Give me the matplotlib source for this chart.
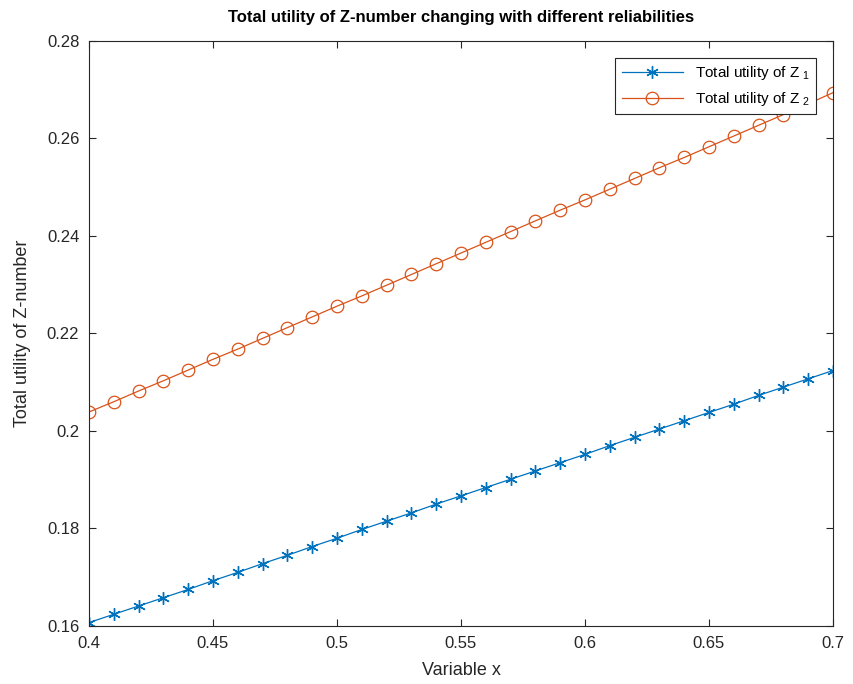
import matplotlib
matplotlib.use('Agg')
import matplotlib.pyplot as plt
from matplotlib.ticker import FuncFormatter

plt.rcParams['font.family'] = ['Liberation Sans', 'DejaVu Sans']
plt.rcParams['mathtext.default'] = 'regular'

x_vals = [0.40, 0.41, 0.42, 0.43, 0.44, 0.45, 0.46, 0.47, 0.48, 0.49, 0.50,
          0.51, 0.52, 0.53, 0.54, 0.55, 0.56, 0.57, 0.58, 0.59, 0.60,
          0.61, 0.62, 0.63, 0.64, 0.65, 0.66, 0.67, 0.68, 0.69, 0.70]

z1_utility = [0.1607, 0.1624, 0.1641, 0.1658, 0.1675, 0.1693, 0.1710, 0.1728,
              0.1745, 0.1763, 0.1780, 0.1798, 0.1815, 0.1832, 0.1850, 0.1867,
              0.1884, 0.1901, 0.1918, 0.1935, 0.1952, 0.1970, 0.1987, 0.2004,
              0.2021, 0.2038, 0.2055, 0.2073, 0.2090, 0.2107, 0.2124]

z2_utility = [0.2039, 0.2060, 0.2082, 0.2103, 0.2125, 0.2147, 0.2168, 0.2190,
              0.2212, 0.2234, 0.2256, 0.2277, 0.2299, 0.2321, 0.2343, 0.2365,
              0.2387, 0.2409, 0.2431, 0.2453, 0.2474, 0.2496, 0.2518, 0.2540,
              0.2561, 0.2583, 0.2605, 0.2627, 0.2649, 0.2671, 0.2694]

series_labels = [r'Total utility of Z $_1$', r'Total utility of Z $_2$']
x_ticks = [0.4, 0.45, 0.5, 0.55, 0.6, 0.65, 0.7]
y_ticks = [0.16, 0.18, 0.2, 0.22, 0.24, 0.26, 0.28]

fig = plt.figure(figsize=(8.54, 6.84), dpi=100)
ax = fig.add_axes([0.1042, 0.0848, 0.8712, 0.8553])

# matlab style asterisk: 6 spokes
ax.plot(x_vals, z1_utility, color='#0072BD', marker=(6, 2, 0), markersize=9,
        markeredgewidth=1.0, linewidth=0.9, label=series_labels[0])
ax.plot(x_vals, z2_utility, color='#D95319', marker='o', markersize=9,
        markerfacecolor='none', markeredgewidth=0.9, linewidth=0.9,
        label=series_labels[1])

ax.set_xlim(0.4, 0.7)
ax.set_ylim(0.16, 0.28)
ax.set_xticks(x_ticks)
ax.set_yticks(y_ticks)
fmt = FuncFormatter(lambda v, p: '%g' % v)
ax.xaxis.set_major_formatter(fmt)
ax.yaxis.set_major_formatter(fmt)
ax.tick_params(direction='in', top=True, right=True, length=5,
               labelsize=12, colors='#262626', pad=7)
for s in ax.spines.values():
    s.set_color('#262626')
    s.set_linewidth(0.8)

ax.set_xlabel('Variable x', fontsize=13, color='#262626', labelpad=8)
ax.set_ylabel('Total utility of Z-number', fontsize=13, color='#262626',
              labelpad=11)
ax.set_title('Total utility of Z-number changing with different reliabilities',
             fontsize=12, fontweight='bold', pad=14)

leg = ax.legend(loc='upper right', fontsize=11, fancybox=False,
                framealpha=1, edgecolor='#262626', borderaxespad=1.1,
                handlelength=4, labelspacing=0.55)
leg.get_frame().set_linewidth(0.8)

fig.savefig('out.png', dpi=100)
